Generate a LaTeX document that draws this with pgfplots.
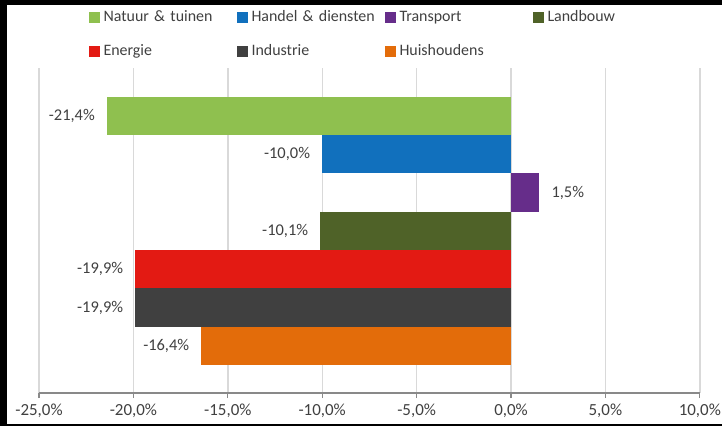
\documentclass[border=0pt]{standalone}
\usepackage{pgfplots}
\pgfplotsset{compat=1.18}
\usepackage{fontspec}
\setmainfont{Carlito}
\definecolor{cNat}{HTML}{8FC04F}
\definecolor{cHan}{HTML}{1170BD}
\definecolor{cTra}{HTML}{662D8A}
\definecolor{cLan}{HTML}{4F6228}
\definecolor{cEne}{HTML}{E31A13}
\definecolor{cInd}{HTML}{404040}
\definecolor{cHui}{HTML}{E36C0A}
\definecolor{txtgray}{HTML}{404040}
\definecolor{axisgray}{HTML}{898989}
\definecolor{gridgray}{HTML}{D9D9D9}
\newcommand{\lbl}{\fontsize{16.5}{19}\selectfont}
\newcommand{\tlbl}{\fontsize{17}{20}\selectfont}
\newcommand{\leglbl}{\fontsize{16}{19}\selectfont}
\pgfplotsset{
  sqleg/.style={legend image code/.code={\fill[##1] (0bp,-5.5bp) rectangle (11bp,5.5bp); \path (14.5bp,0bp);}},
  neglab/.style={every node near coord/.append style={anchor=east, xshift=-12bp}},
  poslab/.style={every node near coord/.append style={anchor=west, xshift=12bp}},
}
\begin{document}
\begin{tikzpicture}
\fill[black] (0,0) rectangle (722bp,426bp);
\fill[white] (7bp,2bp) rectangle (722bp,421bp);
\begin{axis}[
  at={(39bp,33bp)}, anchor=south west,
  scale only axis, width=660.8bp, height=325bp,
  xmin=-25, xmax=10, ymin=-0.227, ymax=8.252,
  xtick={-25,-20,...,10},
  ytick=\empty,
  axis x line*=bottom, axis y line=none,
  x axis line style={draw=axisgray, line width=1.3bp, -},
  xmajorgrids, major grid style={draw=gridgray, line width=1.4bp},
  tick align=outside, major tick length=5bp,
  xtick style={draw=axisgray, line width=1.3bp},
  /pgf/number format/assume math mode=true,
  xticklabel={\pgfmathprintnumber[fixed,fixed zerofill,precision=1,use comma]{\tick}\%},
  tick label style={font=\tlbl, text=txtgray, yshift=-2bp},
  clip=false,
  legend columns=4,
  legend style={at={(0.0757,1.178)}, anchor=north west, draw=none, fill=none,
    inner sep=0pt, outer sep=0pt, row sep=19bp, column sep=0pt,
    nodes={inner sep=0pt, text width=133.5bp, align=left, text height=11bp, text depth=4bp, font=\leglbl, text=txtgray},
    cells={anchor=west}},
  point meta=x,
  nodes near coords={\pgfmathprintnumber[fixed,fixed zerofill,precision=1,use comma]{\pgfplotspointmeta}\%},
  every node near coord/.append style={font=\lbl, text=txtgray, inner sep=0pt},
]
\addplot[xbar, bar width=1, bar shift=0pt, fill=cNat, draw=none, sqleg, neglab] coordinates {(-21.4,7)};
\addplot[xbar, bar width=1, bar shift=0pt, fill=cHan, draw=none, sqleg, neglab] coordinates {(-10.0,6)};
\addplot[xbar, bar width=1, bar shift=0pt, fill=cTra, draw=none, sqleg, poslab] coordinates {(1.5,5)};
\addplot[xbar, bar width=1, bar shift=0pt, fill=cLan, draw=none, sqleg, neglab] coordinates {(-10.1,4)};
\addplot[xbar, bar width=1, bar shift=0pt, fill=cEne, draw=none, sqleg, neglab] coordinates {(-19.9,3)};
\addplot[xbar, bar width=1, bar shift=0pt, fill=cInd, draw=none, sqleg, neglab] coordinates {(-19.9,2)};
\addplot[xbar, bar width=1, bar shift=0pt, fill=cHui, draw=none, sqleg, neglab] coordinates {(-16.4,1)};
\legend{Natuur \& tuinen, Handel \& diensten, Transport, Landbouw, Energie, Industrie, Huishoudens}
\end{axis}
\pgfresetboundingbox
\useasboundingbox (0,0) rectangle (722bp,426bp);
\end{tikzpicture}
\end{document}
